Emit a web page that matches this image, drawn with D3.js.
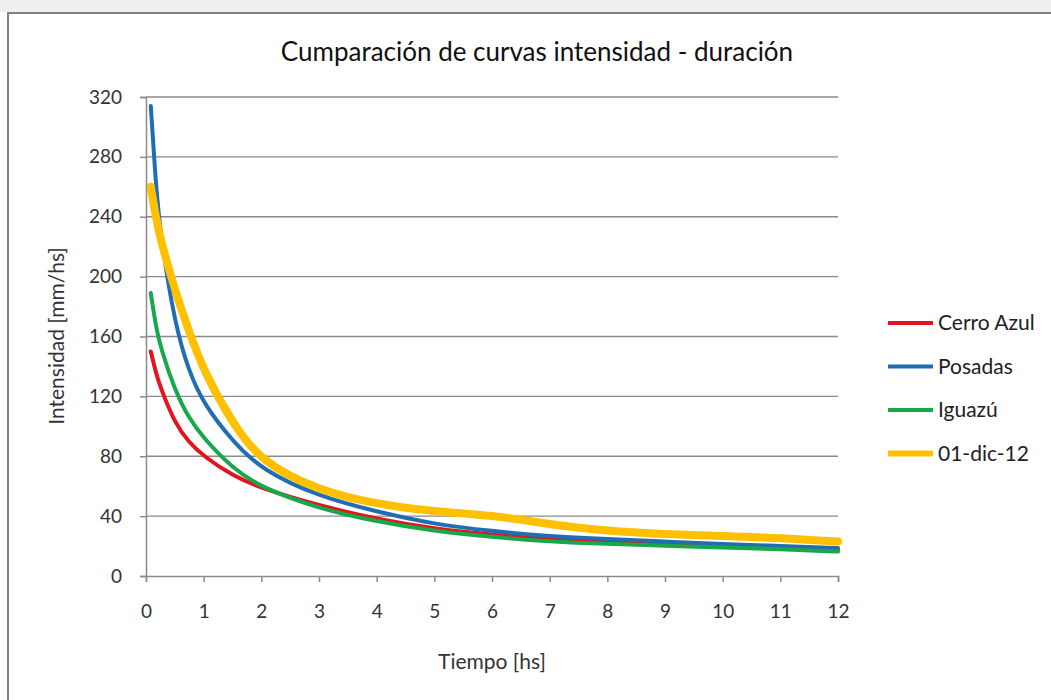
<!DOCTYPE html>
<html>
<head>
<meta charset="utf-8">
<script src="https://cdn.jsdelivr.net/npm/d3@7"></script>
<style>
  body { margin: 0; background: #fff; }
  text { font-family: Lato, "Open Sans", sans-serif; }
</style>
</head>
<body>
<script>
const w = 1051;
const h = 700;

// tiempo [hs]
const tiempos = [0.083, 0.17, 0.25, 0.5, 0.75, 1, 1.5, 2, 3, 4, 5, 6, 7, 8, 9, 10, 11, 12];

// intensidad [mm/hs]
const cerroAzul = [150, 136, 126, 102, 89, 80, 67, 58.5, 47, 38, 31.5, 27.5, 24.5, 22.5, 21, 19.8, 18.8, 17.5];
const posadas   = [314, 262, 228, 168, 136, 115, 90, 71, 53, 43, 34.5, 30, 26.5, 24.6, 23, 21.4, 20, 18.7];
const iguazu    = [189, 167, 153, 124, 105, 92, 72, 59, 45, 36.3, 30, 26, 23, 21.4, 20.3, 19, 18, 16.3];
const dic12     = [260, 240, 225, 191, 163, 137, 102, 76, 57, 48, 43, 40.7, 34.5, 30, 28, 26.7, 25.4, 23];

const seriesNames = ["Cerro Azul", "Posadas", "Iguazú", "01-dic-12"];
const seriesValues = [cerroAzul, posadas, iguazu, dic12];
const seriesColors = ["#e3141c", "#1f6db3", "#16a84a", "#ffc000"];
const seriesWidths = [4, 4, 4, 8];

const xTicks = d3.range(0, 13, 1);
const yTicks = d3.range(0, 321, 40);

const svg = d3.select("body")
  .append("svg")
  .attr("width", w)
  .attr("height", h);

// fondo / marco
svg.append("rect")
  .attr("x", 0).attr("y", 0).attr("width", w).attr("height", 12)
  .attr("fill", "#efefef");
svg.append("rect")
  .attr("x", 8).attr("y", 13).attr("width", w + 20).attr("height", h + 20)
  .attr("fill", "#fff")
  .attr("stroke", "#7f7f7f")
  .attr("stroke-width", 2);

const xScale = d3.scaleLinear().domain([0, 12]).range([146, 838]);
const yScale = d3.scaleLinear().domain([0, 320]).range([576, 97]);

// grid
svg.append("g")
  .selectAll("line")
  .data(yTicks.filter(d => d > 0))
  .enter().append("line")
  .attr("x1", xScale(0))
  .attr("x2", xScale(12))
  .attr("y1", d => yScale(d))
  .attr("y2", d => yScale(d))
  .attr("stroke", "#8a8a8a")
  .attr("stroke-width", 1.3);

// ejes
const xAxis = d3.axisBottom(xScale).tickValues(xTicks).tickSize(6).tickPadding(23);
const yAxis = d3.axisLeft(yScale).tickValues(yTicks).tickSize(6).tickPadding(18);

const gx = svg.append("g")
  .attr("transform", `translate(0,${yScale(0)})`)
  .call(xAxis);
const gy = svg.append("g")
  .attr("transform", `translate(${xScale(0)},0)`)
  .call(yAxis);

[gx, gy].forEach(g => {
  g.select(".domain").attr("stroke", "#8a8a8a").attr("stroke-width", 1.5);
  g.selectAll(".tick line").attr("stroke", "#8a8a8a").attr("stroke-width", 1.5);
  g.selectAll(".tick text")
    .attr("fill", "#333")
    .style("font-size", "19px")
    .style("font-family", "Lato, sans-serif");
});

// curvas
const line = d3.line()
  .x(d => xScale(d[0]))
  .y(d => yScale(d[1]))
  .curve(d3.curveBasis);

seriesValues.forEach((vals, i) => {
  svg.append("path")
    .datum(tiempos.map((t, j) => [t, vals[j]]))
    .attr("d", line)
    .attr("fill", "none")
    .attr("stroke", seriesColors[i])
    .attr("stroke-width", seriesWidths[i])
    .attr("stroke-linecap", "round")
    .attr("stroke-linejoin", "round");
});

// titulo
svg.append("text")
  .attr("x", 537)
  .attr("y", 61)
  .attr("text-anchor", "middle")
  .attr("fill", "#111")
  .style("font-size", "26px")
  .text("Cumparación de curvas intensidad - duración");

svg.append("text")
  .attr("transform", "translate(64,336) rotate(-90)")
  .attr("text-anchor", "middle")
  .attr("fill", "#333")
  .style("font-size", "21px")
  .text("Intensidad [mm/hs]");

svg.append("text")
  .attr("x", 492)
  .attr("y", 669)
  .attr("text-anchor", "middle")
  .attr("fill", "#333")
  .style("font-size", "21px")
  .text("Tiempo [hs]");

// leyenda
const legend = svg.append("g")
  .attr("id", "legend")
  .attr("transform", "translate(888,323)");

const items = legend.selectAll("g")
  .data(seriesNames)
  .enter().append("g")
  .attr("transform", (d, i) => `translate(0,${i * 43.5})`);

items.append("line")
  .attr("x1", 0).attr("x2", 45)
  .attr("y1", 0).attr("y2", 0)
  .attr("stroke", (d, i) => seriesColors[i])
  .attr("stroke-width", (d, i) => i === 3 ? 6 : 4);

items.append("text")
  .attr("x", 50)
  .attr("y", 7)
  .attr("fill", "#222")
  .style("font-size", "21px")
  .text(d => d);
</script>
</body>
</html>
